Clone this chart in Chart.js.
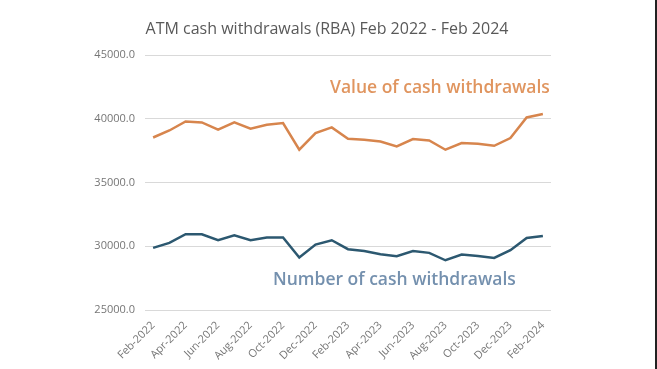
<!DOCTYPE html>
<html>
<head>
<meta charset="utf-8">
<script src="https://cdn.jsdelivr.net/npm/chart.js@4"></script>
<style>
  html, body { margin: 0; padding: 0; background: #fff; }
  #wrap { width: 655px; height: 369px; border-right: 2px solid #222; }
</style>
</head>
<body>
<div id="wrap"><canvas id="chart" width="655" height="369"></canvas></div>
<script>
// months Feb 2022 .. Feb 2024
const months = ['Feb-2022','Mar-2022','Apr-2022','May-2022','Jun-2022','Jul-2022','Aug-2022','Sep-2022',
  'Oct-2022','Nov-2022','Dec-2022','Jan-2023','Feb-2023','Mar-2023','Apr-2023','May-2023','Jun-2023',
  'Jul-2023','Aug-2023','Sep-2023','Oct-2023','Nov-2023','Dec-2023','Jan-2024','Feb-2024'];

const valueWithdrawals = [38530, 39080, 39790, 39710, 39140, 39710, 39220, 39530, 39660, 37570, 38880, 39320,
  38430, 38350, 38220, 37830, 38410, 38300, 37570, 38090, 38040, 37880, 38490, 40100, 40370];

const numberWithdrawals = [29870, 30260, 30940, 30940, 30470, 30860, 30470, 30680, 30680, 29110, 30130, 30470,
  29770, 29630, 29370, 29220, 29630, 29480, 28900, 29350, 29240, 29080, 29690, 30650, 30810];

const yTicks = [25000, 30000, 35000, 40000, 45000];

const chartTitle = 'ATM cash withdrawals (RBA) Feb 2022 - Feb 2024';

// title + the two series labels sitting next to the lines
const textPlugin = {
  id: 'texts',
  afterDraw(chart) {
    const ctx = chart.ctx;
    ctx.save();
    ctx.textBaseline = 'middle';
    ctx.textAlign = 'center';
    ctx.font = '500 16px "Open Sans"';
    ctx.fillStyle = '#595959';
    ctx.fillText(chartTitle, 327, 29);
    ctx.textAlign = 'left';
    ctx.font = '600 17.5px "Open Sans"';
    ctx.fillStyle = '#E0955F';
    ctx.fillText('Value of cash withdrawals', 330, 88);
    ctx.fillStyle = '#7490AE';
    ctx.fillText('Number of cash withdrawals', 273, 280);
    ctx.restore();
  }
};

new Chart(document.getElementById('chart'), {
  type: 'line',
  data: {
    labels: months,
    datasets: [{
      label: 'Value of cash withdrawals',
      data: valueWithdrawals,
      borderColor: '#D7854D',
      borderWidth: 2.5,
      pointRadius: 0,
      tension: 0
    }, {
      label: 'Number of cash withdrawals',
      data: numberWithdrawals,
      borderColor: '#2C5870',
      borderWidth: 2.5,
      pointRadius: 0,
      tension: 0
    }]
  },
  options: {
    responsive: false,
    animation: false,
    layout: { padding: { left: 0, right: 104, top: 55, bottom: 0 } },
    plugins: {
      legend: { display: false },
      tooltip: { enabled: false },
      title: { display: false }
    },
    scales: {
      x: {
        offset: true,
        grid: { display: false },
        border: { display: false },
        ticks: {
          autoSkip: false,
          maxRotation: 45,
          minRotation: 45,
          color: '#767676',
          font: { family: 'Open Sans', size: 11 },
          padding: 1,
          callback: function (v, i) { return i % 2 === 0 ? months[i] : ''; }
        },
        afterFit: s => { s.height = 59; }
      },
      y: {
        min: 25000,
        max: 45000,
        afterBuildTicks: s => { s.ticks = yTicks.map(v => ({ value: v })); },
        grid: { color: '#d9d9d9', drawTicks: false },
        border: { display: false },
        ticks: {
          color: '#767676',
          font: { family: 'Open Sans', size: 11 },
          padding: 10,
          callback: v => v.toFixed(1)
        },
        afterFit: s => { s.width = 145; }
      }
    }
  },
  plugins: [textPlugin]
});
</script>
</body>
</html>
